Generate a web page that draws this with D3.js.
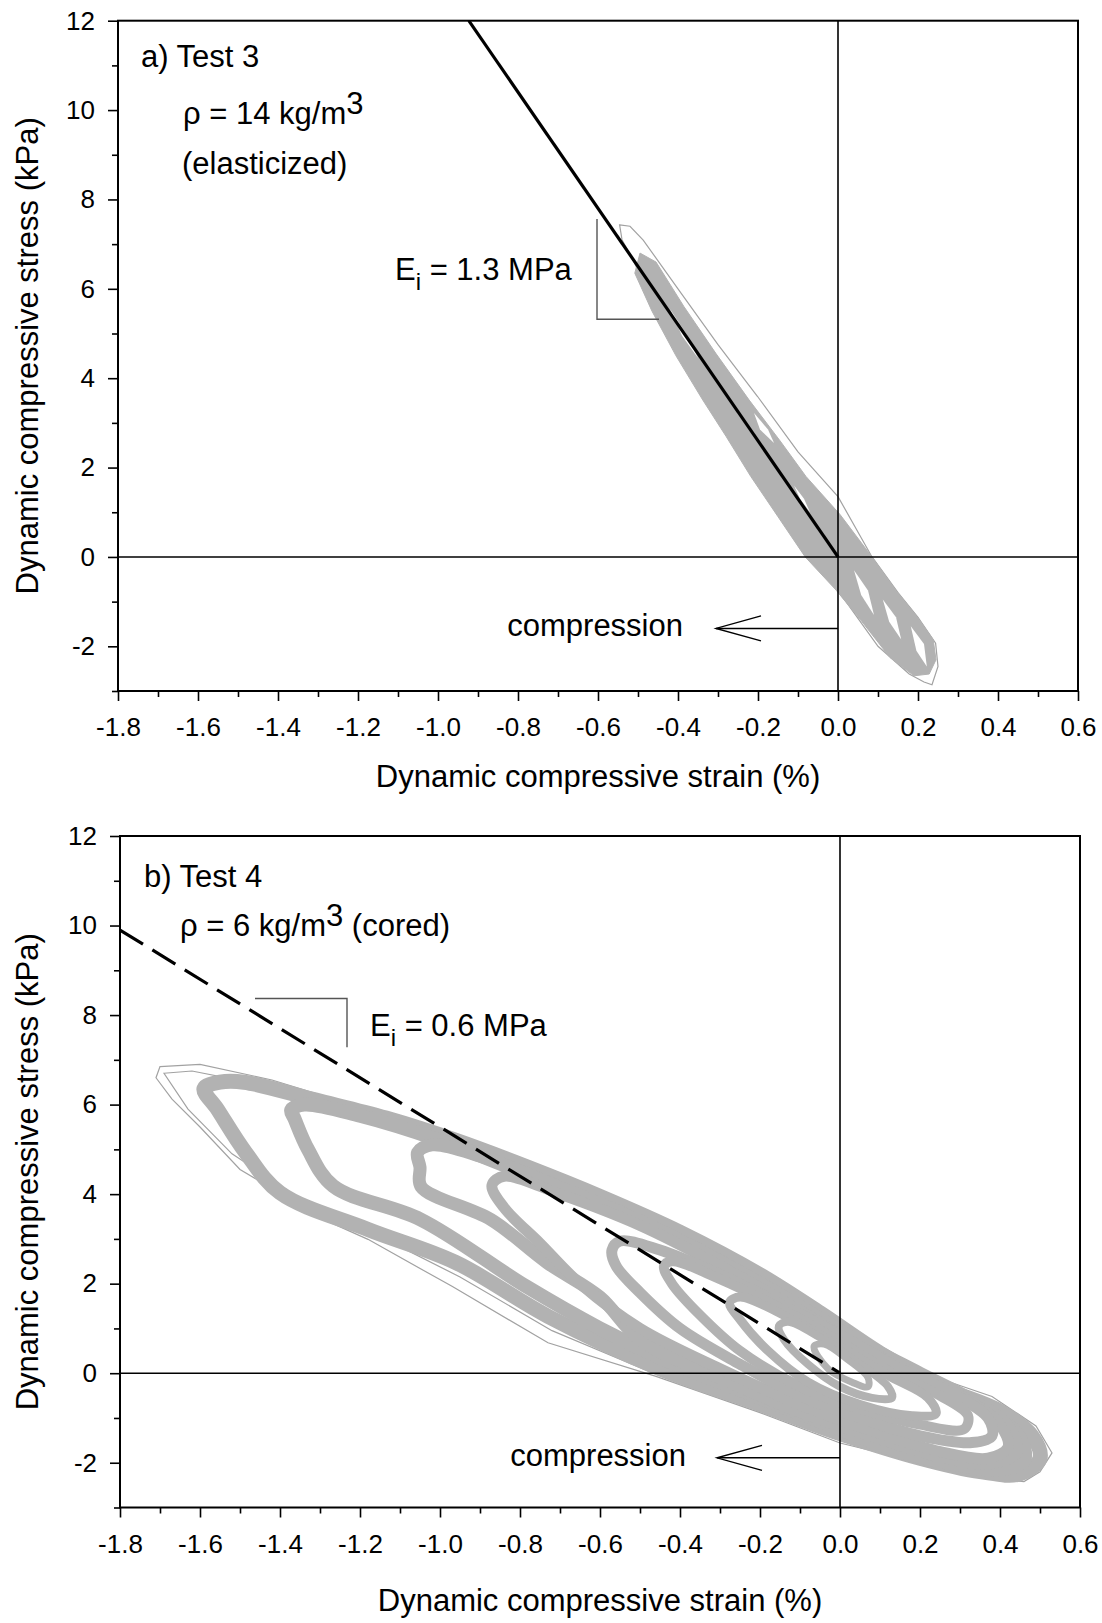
<!DOCTYPE html>
<html>
<head>
<meta charset="utf-8">
<script src="https://cdn.jsdelivr.net/npm/d3@7"></script>
<style>
  body { margin: 0; background: #fff; }
  svg { display: block; font-family: "Liberation Sans", Arial, sans-serif; }
</style>
</head>
<body>
<svg id="chart" width="1102" height="1623"></svg>
<script>
// ---- axis values ----
const strainDomain = [-1.8, 0.6];
const stressDomain = [-3, 12];
const strainTicks = [-1.8, -1.6, -1.4, -1.2, -1.0, -0.8, -0.6, -0.4, -0.2, 0.0, 0.2, 0.4, 0.6];
const strainMinorTicks = [-1.7, -1.5, -1.3, -1.1, -0.9, -0.7, -0.5, -0.3, -0.1, 0.1, 0.3, 0.5];
const stressTicks = [-2, 0, 2, 4, 6, 8, 10, 12];
const stressMinorTicks = [-3, -1, 1, 3, 5, 7, 9, 11];

// ---- panel a) Test 3 : [strain %, stress kPa] ----
const test3Band = [
  [-0.495, 6.80], [-0.455, 6.60], [-0.385, 5.60], [-0.305, 4.55], [-0.222, 3.51],
  [-0.145, 2.60], [-0.080, 1.80], [0.005, 0.95], [0.085, 0.0], [0.145, -0.75],
  [0.198, -1.34], [0.238, -1.85], [0.245, -2.30], [0.228, -2.62], [0.19, -2.66],
  [0.13, -2.25], [0.06, -1.45], [-0.005, -0.74], [-0.082, 0.0], [-0.15, 0.90],
  [-0.218, 1.80], [-0.28, 2.70], [-0.338, 3.51], [-0.405, 4.50], [-0.465, 5.50], [-0.508, 6.35]
];
const test3Gaps = [
  [[-0.42, 5.55], [-0.38, 5.0], [-0.35, 4.45], [-0.39, 4.95]],
  [[-0.21, 3.22], [-0.175, 2.85], [-0.16, 2.55], [-0.195, 2.85]],
  [[-0.11, 1.60], [-0.085, 1.30], [-0.07, 1.00], [-0.095, 1.30]],
  [[0.04, -0.30], [0.075, -0.75], [0.09, -1.30], [0.058, -0.85]],
  [[0.112, -0.95], [0.145, -1.35], [0.158, -1.85], [0.128, -1.45]],
  [[0.182, -1.55], [0.215, -1.95], [0.222, -2.45], [0.196, -2.10]]
];
const test3Outline = [
  [-0.546, 7.43], [-0.52, 7.40], [-0.487, 7.09], [-0.40, 6.0], [-0.30, 4.75],
  [-0.201, 3.59], [-0.10, 2.35], [0.0, 1.35], [0.085, 0.0], [0.15, -0.80],
  [0.20, -1.35], [0.244, -1.93], [0.25, -2.45], [0.235, -2.86], [0.215, -2.80],
  [0.178, -2.62], [0.10, -2.0], [0.02, -1.0], [-0.05, -0.2], [-0.20, 1.70],
  [-0.35, 3.90], [-0.45, 5.50], [-0.51, 6.60], [-0.54, 7.10]
];
const test3Fit = [[-0.923, 12], [0, 0]];
const test3Slope = [[-0.6025, 7.56], [-0.6025, 5.32], [-0.4475, 5.32]];
const test3Arrow = [[0, -1.6], [-0.305, -1.6]];

// ---- panel b) Test 4 ----
const test4Loops = [
  [[-1.59, 6.36], [-1.55, 6.50], [-1.49, 6.50], [-1.31, 6.10], [-1.135, 5.70], [-0.96, 5.20],
   [-0.78, 4.60], [-0.60, 3.95], [-0.40, 3.15], [-0.20, 2.20], [-0.05, 1.35], [0.10, 0.45],
   [0.25, -0.30], [0.40, -0.85], [0.48, -1.40], [0.50, -1.90], [0.45, -2.25],
   [0.35, -2.20], [0.20, -1.90], [0.0, -1.35], [-0.20, -0.70], [-0.45, 0.10],
   [-0.73, 1.27], [-0.96, 2.47], [-1.18, 3.21], [-1.40, 4.03], [-1.486, 4.93], [-1.556, 5.89]],
  [[-1.372, 5.88], [-1.34, 6.00], [-1.20, 5.75], [-1.0, 5.20], [-0.80, 4.50], [-0.60, 3.75],
   [-0.40, 2.95], [-0.20, 2.00], [-0.05, 1.20], [0.10, 0.35], [0.25, -0.35], [0.38, -0.90],
   [0.45, -1.45], [0.46, -1.95], [0.40, -2.15],
   [0.30, -2.05], [0.15, -1.75], [0.0, -1.25], [-0.20, -0.55], [-0.45, 0.35], [-0.60, 1.0],
   [-0.785, 1.94], [-1.0475, 3.43], [-1.267, 4.18], [-1.33, 5.0], [-1.363, 5.67]],
  [[-1.056, 4.93], [-1.02, 5.10], [-0.90, 4.85], [-0.70, 4.15], [-0.50, 3.40], [-0.30, 2.50],
   [-0.10, 1.50], [0.05, 0.70], [0.20, 0.0], [0.33, -0.60], [0.42, -1.20], [0.44, -1.75], [0.38, -2.0],
   [0.25, -1.85], [0.10, -1.45], [-0.10, -0.85], [-0.30, -0.10], [-0.50, 0.75], [-0.60, 1.70],
   [-0.7325, 2.47], [-0.8725, 3.43], [-1.0475, 4.17], [-1.05, 4.60]],
  [[-0.87, 4.20], [-0.84, 4.40], [-0.70, 4.00], [-0.50, 3.30], [-0.30, 2.40], [-0.10, 1.40],
   [0.05, 0.60], [0.20, -0.05], [0.32, -0.60], [0.40, -1.15], [0.42, -1.65], [0.37, -1.90],
   [0.25, -1.75], [0.10, -1.35], [-0.10, -0.70], [-0.30, 0.10], [-0.50, 1.0], [-0.65, 2.0],
   [-0.75, 2.90], [-0.84, 3.70]],
  [[-0.57, 2.75], [-0.55, 2.95], [-0.45, 2.75], [-0.30, 2.20], [-0.15, 1.55], [0.0, 0.85],
   [0.15, 0.10], [0.28, -0.45], [0.37, -1.0], [0.38, -1.40], [0.33, -1.55],
   [0.20, -1.40], [0.05, -1.0], [-0.10, -0.50], [-0.25, 0.20], [-0.40, 1.0], [-0.50, 1.80], [-0.56, 2.40]],
  [[-0.44, 2.39], [-0.42, 2.50], [-0.30, 2.10], [-0.15, 1.45], [0.0, 0.70], [0.12, 0.05],
   [0.25, -0.50], [0.32, -0.95], [0.31, -1.25], [0.20, -1.15], [0.05, -0.80], [-0.10, -0.30],
   [-0.25, 0.50], [-0.35, 1.30], [-0.42, 2.0]],
  [[-0.276, 1.58], [-0.25, 1.70], [-0.12, 1.20], [0.0, 0.60], [0.12, -0.05], [0.22, -0.55],
   [0.24, -0.90], [0.18, -0.95], [0.05, -0.70], [-0.08, -0.20], [-0.18, 0.50], [-0.25, 1.20]],
  [[-0.153, 1.05], [-0.13, 1.15], [-0.05, 0.80], [0.05, 0.20], [0.12, -0.30], [0.13, -0.55],
   [0.08, -0.55], [0.0, -0.30], [-0.08, 0.20], [-0.14, 0.75]],
  [[-0.065, 0.60], [-0.04, 0.65], [0.02, 0.30], [0.07, -0.10], [0.07, -0.30], [0.03, -0.20], [-0.03, 0.10]]
];
const test4LoopWidth = [15, 14, 13, 11, 11, 10, 9, 8, 7];
const test4Outline = [
  [-1.70, 6.85], [-1.60, 6.90], [-1.42, 6.55], [-1.22, 6.0], [-1.05, 5.45], [-0.87, 4.85],
  [-0.73, 4.33], [-0.50, 3.45], [-0.28, 2.60], [-0.15, 2.10], [0.0, 1.15], [0.21, 0.0],
  [0.38, -0.52], [0.49, -1.18], [0.53, -1.78], [0.50, -2.20], [0.46, -2.42], [0.40, -2.38],
  [0.24, -2.08], [0.0, -1.56], [-0.20, -0.88], [-0.46, -0.07], [-0.73, 0.68], [-0.97, 1.94],
  [-1.18, 2.99], [-1.29, 3.43], [-1.50, 4.55], [-1.60, 5.50], [-1.67, 6.12], [-1.71, 6.60]
];
const test4InnerOutline = [
  [-1.69, 6.70], [-1.62, 6.75], [-1.45, 6.45], [-1.25, 5.90], [-1.00, 5.20], [-0.75, 4.25],
  [-0.50, 3.30], [-0.25, 2.35], [0.0, 1.05], [0.20, 0.0], [0.40, -0.75], [0.50, -1.50],
  [0.48, -2.15], [0.40, -2.30], [0.20, -1.98], [0.0, -1.48], [-0.22, -0.75], [-0.48, 0.05],
  [-0.72, 0.95], [-0.95, 2.15], [-1.15, 3.05], [-1.35, 3.90], [-1.52, 4.90], [-1.63, 5.90]
];
const test4Fit = [[-1.8, 9.9], [0, 0]];
const test4Slope = [[-1.4625, 8.37], [-1.2325, 8.37], [-1.2325, 7.28]];
const test4Arrow = [[0, -1.89], [-0.3075, -1.89]];

const GRAY = '#b2b2b2';
const THIN = '#a2a2a2';
const svg = d3.select('#chart');

const panels = [
  { id: 'a', left: 118, right: 1078, top: 20.7, bottom: 691, xTitleY: 787 },
  { id: 'b', left: 120, right: 1080, top: 836, bottom: 1507.5, xTitleY: 1611 }
];

function makePanel(p) {
  const x = d3.scaleLinear().domain(strainDomain).range([p.left, p.right]);
  const y = d3.scaleLinear().domain(stressDomain).range([p.bottom, p.top]);
  const g = svg.append('g').attr('class', 'panel-' + p.id);

  g.append('clipPath').attr('id', 'clip-' + p.id)
    .append('rect')
    .attr('x', p.left).attr('y', p.top)
    .attr('width', p.right - p.left).attr('height', p.bottom - p.top);

  const plot = g.append('g').attr('clip-path', `url(#clip-${p.id})`);
  return { x, y, g, plot, p };
}

function drawAxes(panel) {
  const { x, y, g, p } = panel;

  const xMajor = g.append('g').attr('transform', `translate(0,${p.bottom})`)
    .call(d3.axisBottom(x).tickValues(strainTicks).tickSize(10).tickSizeOuter(0)
      .tickPadding(17).tickFormat(d => d.toFixed(1)));
  const xMinor = g.append('g').attr('transform', `translate(0,${p.bottom})`)
    .call(d3.axisBottom(x).tickValues(strainMinorTicks).tickSize(6).tickSizeOuter(0).tickFormat(''));
  const yMajor = g.append('g').attr('transform', `translate(${p.left},0)`)
    .call(d3.axisLeft(y).tickValues(stressTicks).tickSize(10).tickSizeOuter(0)
      .tickPadding(13).tickFormat(d => String(d)));
  const yMinor = g.append('g').attr('transform', `translate(${p.left},0)`)
    .call(d3.axisLeft(y).tickValues(stressMinorTicks).tickSize(6).tickSizeOuter(0).tickFormat(''));

  [xMajor, xMinor, yMajor, yMinor].forEach(a => {
    a.select('.domain').remove();
    a.selectAll('.tick line').attr('stroke', '#000').attr('stroke-width', 1.6);
    a.selectAll('.tick text').attr('fill', '#000')
      .style('font-size', '26px').style('font-family', '"Liberation Sans", Arial, sans-serif');
  });

  // frame
  g.append('rect')
    .attr('x', p.left).attr('y', p.top)
    .attr('width', p.right - p.left).attr('height', p.bottom - p.top)
    .attr('fill', 'none').attr('stroke', '#000').attr('stroke-width', 2);

  // axis titles
  g.append('text')
    .attr('x', (p.left + p.right) / 2).attr('y', p.xTitleY)
    .attr('text-anchor', 'middle').style('font-size', '31px')
    .text('Dynamic compressive strain (%)');
  g.append('text')
    .attr('transform', `translate(38,${(p.top + p.bottom) / 2}) rotate(-90)`)
    .attr('text-anchor', 'middle').style('font-size', '31px')
    .text('Dynamic compressive stress (kPa)');
}

function drawZeroLines(panel) {
  const { x, y, plot } = panel;
  plot.append('line')
    .attr('x1', x(strainDomain[0])).attr('x2', x(strainDomain[1]))
    .attr('y1', y(0)).attr('y2', y(0))
    .attr('stroke', '#000').attr('stroke-width', 1.6);
  plot.append('line')
    .attr('x1', x(0)).attr('x2', x(0))
    .attr('y1', y(stressDomain[0])).attr('y2', y(stressDomain[1]))
    .attr('stroke', '#000').attr('stroke-width', 1.6);
}

function drawArrow(panel, pts, labelX, labelY) {
  const { x, y, g } = panel;
  const x0 = x(pts[0][0]), x1 = x(pts[1][0]), yy = y(pts[0][1]);
  g.append('line').attr('x1', x0).attr('x2', x1).attr('y1', yy).attr('y2', yy)
    .attr('stroke', '#000').attr('stroke-width', 1.4);
  g.append('path')
    .attr('d', `M${x1 + 45},${yy - 12.5}L${x1},${yy}L${x1 + 45},${yy + 12.5}`)
    .attr('fill', 'none').attr('stroke', '#000').attr('stroke-width', 1.4);
  g.append('text').attr('x', labelX).attr('y', labelY)
    .attr('text-anchor', 'end').style('font-size', '31px').text('compression');
}

function drawModulus(panel, slopePts, label, tx, ty) {
  const { x, y, g } = panel;
  g.append('path')
    .attr('d', d3.line().x(d => x(d[0])).y(d => y(d[1]))(slopePts))
    .attr('fill', 'none').attr('stroke', '#555').attr('stroke-width', 1.4);
  const t = g.append('text').attr('x', tx).attr('y', ty).style('font-size', '31px');
  t.append('tspan').text('E');
  t.append('tspan').attr('dy', 10).style('font-size', '24px').text('i');
  t.append('tspan').attr('dy', -10).text(label);
}

// ---- panel a ----
const pa = makePanel(panels[0]);
{
  const { x, y, plot, g } = pa;
  const closed = d3.line().x(d => x(d[0])).y(d => y(d[1])).curve(d3.curveLinearClosed);

  plot.append('path').attr('d', closed(test3Outline))
    .attr('fill', 'none').attr('stroke', THIN).attr('stroke-width', 1.2);
  plot.append('path').attr('d', closed(test3Band))
    .attr('fill', GRAY).attr('stroke', GRAY).attr('stroke-width', 1);
  plot.selectAll('.gap').data(test3Gaps).join('path')
    .attr('class', 'gap').attr('d', closed).attr('fill', '#fff');

  drawZeroLines(pa);

  plot.append('path')
    .attr('d', d3.line().x(d => x(d[0])).y(d => y(d[1]))(test3Fit))
    .attr('fill', 'none').attr('stroke', '#000').attr('stroke-width', 3.2);

  drawModulus(pa, test3Slope, ' = 1.3 MPa', 395, 280);
  drawArrow(pa, test3Arrow, 683, 636);

  g.append('text').attr('x', 141).attr('y', 67).style('font-size', '31px').text('a) Test 3');
  const rho = g.append('text').attr('x', 183).attr('y', 124).style('font-size', '31px');
  rho.append('tspan').text('\u03c1 = 14 kg/m');
  rho.append('tspan').attr('dy', -10).text('3');
  g.append('text').attr('x', 182).attr('y', 174).style('font-size', '31px').text('(elasticized)');

  drawAxes(pa);
}

// ---- panel b ----
const pb = makePanel(panels[1]);
{
  const { x, y, plot, g } = pb;
  const smooth = d3.line().x(d => x(d[0])).y(d => y(d[1])).curve(d3.curveCatmullRomClosed.alpha(0.5));
  const sharp = d3.line().x(d => x(d[0])).y(d => y(d[1])).curve(d3.curveLinearClosed);

  [test4Outline, test4InnerOutline].forEach(o => {
    plot.append('path').attr('d', sharp(o))
      .attr('fill', 'none').attr('stroke', THIN).attr('stroke-width', 1.2);
  });
  plot.selectAll('.loop').data(test4Loops).join('path')
    .attr('class', 'loop').attr('d', smooth)
    .attr('fill', 'none').attr('stroke', GRAY)
    .attr('stroke-width', (d, i) => test4LoopWidth[i])
    .attr('stroke-linejoin', 'round');

  drawZeroLines(pb);

  plot.append('path')
    .attr('d', d3.line().x(d => x(d[0])).y(d => y(d[1]))(test4Fit))
    .attr('fill', 'none').attr('stroke', '#000').attr('stroke-width', 3.2)
    .attr('stroke-dasharray', '27,11');

  drawModulus(pb, test4Slope, ' = 0.6 MPa', 370, 1036);
  drawArrow(pb, test4Arrow, 686, 1466);

  g.append('text').attr('x', 144).attr('y', 887).style('font-size', '31px').text('b) Test 4');
  const rho = g.append('text').attr('x', 180).attr('y', 936).style('font-size', '31px');
  rho.append('tspan').text('\u03c1 = 6 kg/m');
  rho.append('tspan').attr('dy', -10).text('3');
  rho.append('tspan').attr('dy', 10).text(' (cored)');

  drawAxes(pb);
}
</script>
</body>
</html>
